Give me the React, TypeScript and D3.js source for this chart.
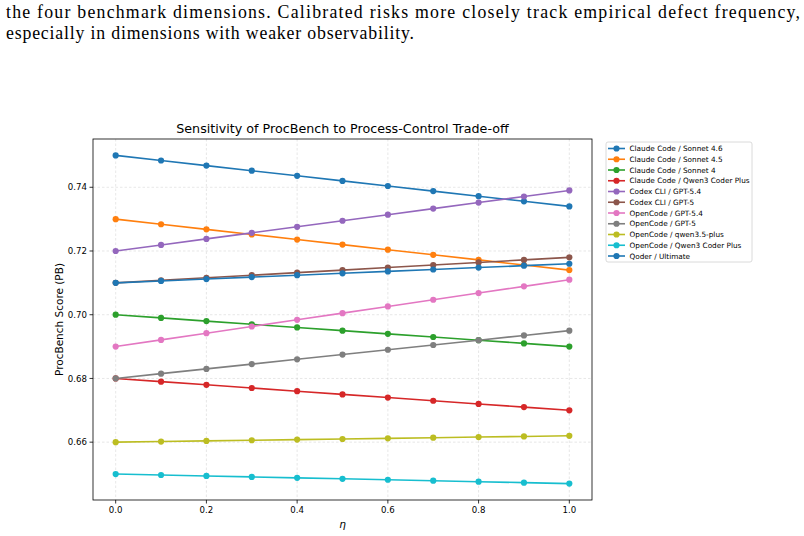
import React from "react";
import * as d3 from "d3";

// eta sweep values
const etas = [0, 0.1, 0.2, 0.3, 0.4, 0.5, 0.6, 0.7, 0.8, 0.9, 1.0];

const seriesNames = [
  "Claude Code / Sonnet 4.6",
  "Claude Code / Sonnet 4.5",
  "Claude Code / Sonnet 4",
  "Claude Code / Qwen3 Coder Plus",
  "Codex CLI / GPT-5.4",
  "Codex CLI / GPT-5",
  "OpenCode / GPT-5.4",
  "OpenCode / GPT-5",
  "OpenCode / qwen3.5-plus",
  "OpenCode / Qwen3 Coder Plus",
  "Qoder / Ultimate",
];

const sonnet46 = [0.75, 0.7484, 0.7468, 0.7452, 0.7436, 0.742, 0.7404, 0.7388, 0.7372, 0.7356, 0.734];
const sonnet45 = [0.73, 0.7284, 0.7268, 0.7252, 0.7236, 0.722, 0.7204, 0.7188, 0.7172, 0.7156, 0.714];
const sonnet4 = [0.7, 0.699, 0.698, 0.697, 0.696, 0.695, 0.694, 0.693, 0.692, 0.691, 0.69];
const ccQwen3 = [0.68, 0.679, 0.678, 0.677, 0.676, 0.675, 0.674, 0.673, 0.672, 0.671, 0.67];
const codexGpt54 = [0.72, 0.7219, 0.7238, 0.7257, 0.7276, 0.7295, 0.7314, 0.7333, 0.7352, 0.7371, 0.739];
const codexGpt5 = [0.71, 0.7108, 0.7116, 0.7124, 0.7132, 0.714, 0.7148, 0.7156, 0.7164, 0.7172, 0.718];
const ocGpt54 = [0.69, 0.6921, 0.6942, 0.6963, 0.6984, 0.7005, 0.7026, 0.7047, 0.7068, 0.7089, 0.711];
const ocGpt5 = [0.68, 0.6815, 0.683, 0.6845, 0.686, 0.6875, 0.689, 0.6905, 0.692, 0.6935, 0.695];
const ocQwen35 = [0.66, 0.6602, 0.6604, 0.6606, 0.6608, 0.661, 0.6612, 0.6614, 0.6616, 0.6618, 0.662];
const ocQwen3 = [0.65, 0.6497, 0.6494, 0.6491, 0.6488, 0.6485, 0.6482, 0.6479, 0.6476, 0.6473, 0.647];
const qoder = [0.71, 0.7106, 0.7112, 0.7118, 0.7124, 0.713, 0.7136, 0.7142, 0.7148, 0.7154, 0.716];

const seriesValues = [
  sonnet46, sonnet45, sonnet4, ccQwen3, codexGpt54, codexGpt5,
  ocGpt54, ocGpt5, ocQwen35, ocQwen3, qoder,
];

const xTicks = [0, 0.2, 0.4, 0.6, 0.8, 1.0];
const yTicks = [0.66, 0.68, 0.7, 0.72, 0.74];

// matplotlib tab10 cycle (11th wraps back to blue)
const colors = [
  "#1f77b4", "#ff7f0e", "#2ca02c", "#d62728", "#9467bd", "#8c564b",
  "#e377c2", "#7f7f7f", "#bcbd22", "#17becf", "#1f77b4",
];

const W = 804;
const H = 536;
const plot = { left: 93, right: 592, top: 139, bottom: 500 };
const FONT = "DejaVu Sans, sans-serif";

export default function App() {
  const allVals = seriesValues.flat();
  const yMin = d3.min(allVals)!;
  const yMax = d3.max(allVals)!;
  const yPad = (yMax - yMin) * 0.05;

  const x = d3.scaleLinear().domain([-0.05, 1.05]).range([plot.left, plot.right]);
  const y = d3
    .scaleLinear()
    .domain([yMin - yPad, yMax + yPad])
    .range([plot.bottom, plot.top]);

  const line = d3
    .line<number>()
    .x((_, i) => x(etas[i]))
    .y((d) => y(d));

  const cx = (plot.left + plot.right) / 2;
  const cy = (plot.top + plot.bottom) / 2;

  const legend = { x: 606, y: 142, w: 146, h: 120, row: 10.75 };

  return (
    <div style={{ position: "absolute", left: 0, top: 0 }}>
      <svg width={W} height={H} style={{ display: "block", background: "#fff" }}>
        {/* paper text above the figure */}
        <g fontFamily="Liberation Serif, Times New Roman, serif" fontSize={17.8} fill="#000">
          <text x={6} y={18} textLength={794} lengthAdjust="spacing">
            the four benchmark dimensions.  Calibrated risks more closely track empirical defect frequency,
          </text>
          <text x={6} y={38.5} textLength={408} lengthAdjust="spacing">
            especially in dimensions with weaker observability.
          </text>
        </g>

        <text x={cx} y={133} textAnchor="middle" fontFamily={FONT} fontSize={12.7} fill="#000">
          Sensitivity of ProcBench to Process-Control Trade-off
        </text>

        {/* grid */}
        <g stroke="#b0b0b0" strokeOpacity={0.5} strokeWidth={0.6} strokeDasharray="2.5,2">
          {xTicks.map((t) => (
            <line key={`gx${t}`} x1={x(t)} x2={x(t)} y1={plot.top} y2={plot.bottom} />
          ))}
          {yTicks.map((t) => (
            <line key={`gy${t}`} x1={plot.left} x2={plot.right} y1={y(t)} y2={y(t)} />
          ))}
        </g>

        {/* series */}
        {seriesValues.map((vals, si) => (
          <g key={seriesNames[si]}>
            <path d={line(vals)!} fill="none" stroke={colors[si]} strokeWidth={1.6} />
            {vals.map((v, i) => (
              <circle key={i} cx={x(etas[i])} cy={y(v)} r={3.1} fill={colors[si]} />
            ))}
          </g>
        ))}

        {/* spines */}
        <rect
          x={plot.left}
          y={plot.top}
          width={plot.right - plot.left}
          height={plot.bottom - plot.top}
          fill="none"
          stroke="#000"
          strokeWidth={0.8}
        />

        {/* ticks */}
        <g fontFamily={FONT} fontSize={8.6} fill="#000">
          {xTicks.map((t) => (
            <g key={`xt${t}`}>
              <line x1={x(t)} x2={x(t)} y1={plot.bottom} y2={plot.bottom + 3.5} stroke="#000" strokeWidth={0.8} />
              <text x={x(t)} y={plot.bottom + 13} textAnchor="middle">
                {t.toFixed(1)}
              </text>
            </g>
          ))}
          {yTicks.map((t) => (
            <g key={`yt${t}`}>
              <line x1={plot.left - 3.5} x2={plot.left} y1={y(t)} y2={y(t)} stroke="#000" strokeWidth={0.8} />
              <text x={plot.left - 6} y={y(t) + 3.1} textAnchor="end">
                {t.toFixed(2)}
              </text>
            </g>
          ))}
        </g>

        <text x={cx} y={528} textAnchor="middle" fontFamily={FONT} fontSize={10.5} fontStyle="italic">
          η
        </text>
        <text
          transform={`translate(63,${cy}) rotate(-90)`}
          textAnchor="middle"
          fontFamily={FONT}
          fontSize={10.5}
        >
          ProcBench Score (PB)
        </text>

        {/* legend */}
        <rect
          x={legend.x}
          y={legend.y}
          width={legend.w}
          height={legend.h}
          rx={2}
          fill="#fff"
          fillOpacity={0.8}
          stroke="#d0d0d0"
          strokeWidth={0.8}
        />
        {seriesNames.map((name, i) => {
          const ly = legend.y + 6.5 + i * legend.row;
          return (
            <g key={`lg${name}`}>
              <line x1={608} x2={625} y1={ly} y2={ly} stroke={colors[i]} strokeWidth={1.6} />
              <circle cx={616.5} cy={ly} r={3.1} fill={colors[i]} />
              <text x={629.5} y={ly + 2.5} fontFamily={FONT} fontSize={7.3} fill="#000">
                {name}
              </text>
            </g>
          );
        })}
      </svg>
    </div>
  );
}
